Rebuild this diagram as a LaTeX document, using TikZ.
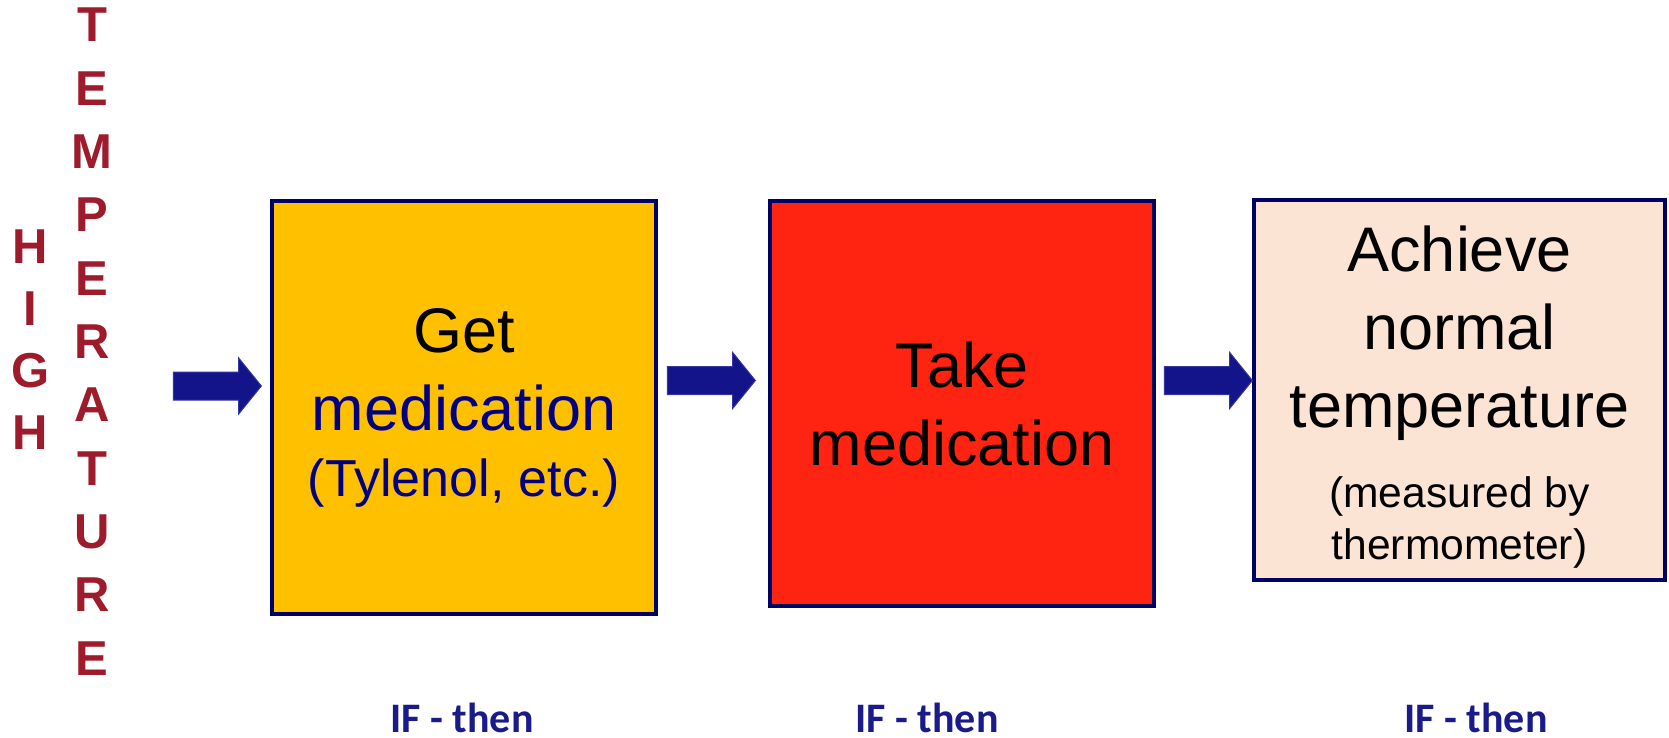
\documentclass[tikz,border=0pt]{standalone}
\usepackage{fontspec}
\setmainfont{Liberation Sans}
\newfontfamily\carlito{Carlito}
\usetikzlibrary{shapes.arrows}

\definecolor{getyellow}{HTML}{FFC000}
\definecolor{takered}{HTML}{FF2311}
\definecolor{normalpeach}{HTML}{FCE4D5}
\definecolor{boxnavy}{HTML}{000066}
\definecolor{textnavy}{HTML}{000080}
\definecolor{arrowblue}{HTML}{13138A}
\definecolor{arrowedge}{HTML}{3535A5}
\definecolor{ifnavy}{HTML}{1A1A8A}
\definecolor{hotred}{HTML}{9E1B2C}

\tikzset{
  stepbox/.style={draw=boxnavy, line width=2pt, align=center, inner sep=0pt,
    font=\fontsize{31.5}{39}\selectfont},
  blockarrow/.style={single arrow, draw=arrowedge, fill=arrowblue, line width=0.5pt,
    minimum height=44pt, minimum width=28pt, single arrow head extend=7pt,
    single arrow tip angle=102, inner xsep=0pt, inner ysep=6.75pt},
  hotletter/.style={text=hotred, font=\bfseries\fontsize{24.5}{24.5}\selectfont,
    anchor=base, inner sep=0pt},
  ifthen/.style={text=ifnavy, font=\carlito\bfseries\fontsize{21}{21}\selectfont,
    anchor=base, inner sep=0pt}
}

\begin{document}
\begin{tikzpicture}[x=0.5pt,y=-0.5pt]
    % Canvas
    \useasboundingbox (0,0) rectangle (1669,738);

    % Vertical words on the left
    \foreach \ch [count=\i] in {H,I,G,H}
        \node[hotletter] (high\i) at (30.5,{263+62.3*(\i-1)}) {\ch};
    \foreach \ch [count=\i] in {T,E,M,P,E,R,A,T,U,R,E}
        \node[hotletter] (temp\i) at (92,{42+63.3*(\i-1)}) {\ch};

    % The three steps
    \node[stepbox, fill=getyellow, minimum width=192pt, minimum height=206.5pt] (getmed) at (464,407.5)
        {Get\\ \textcolor{textnavy}{medication}\\[-6pt]
         {\fontsize{26}{31}\selectfont\color{textnavy}(Tylenol, etc.)}};
    \node[stepbox, fill=takered, minimum width=192pt, minimum height=202.5pt] (takemed) at (962,403.5)
        {Take\\ medication};
    \node[stepbox, fill=normalpeach, minimum width=205.5pt, minimum height=190pt] (normaltemp) at (1459.5,390)
        {\rule{0pt}{29.5pt}Achieve\\ normal\\ temperature\\[1pt]
         {\fontsize{21.3}{26}\selectfont (measured by}\\[-13pt]
         {\fontsize{21.3}{26}\selectfont thermometer)}};

    % Block arrows
    \node[blockarrow, anchor=tip] (arr1) at (262,386) {};
    \node[blockarrow, anchor=tip] (arr2) at (756,380.5) {};
    \node[blockarrow, anchor=tip] (arr3) at (1253,380.5) {};

    % Labels under the steps
    \node[ifthen] (if1) at (462,732) {IF - then};
    \node[ifthen] (if2) at (927,732) {IF - then};
    \node[ifthen] (if3) at (1476,732) {IF - then};
\end{tikzpicture}
\end{document}
